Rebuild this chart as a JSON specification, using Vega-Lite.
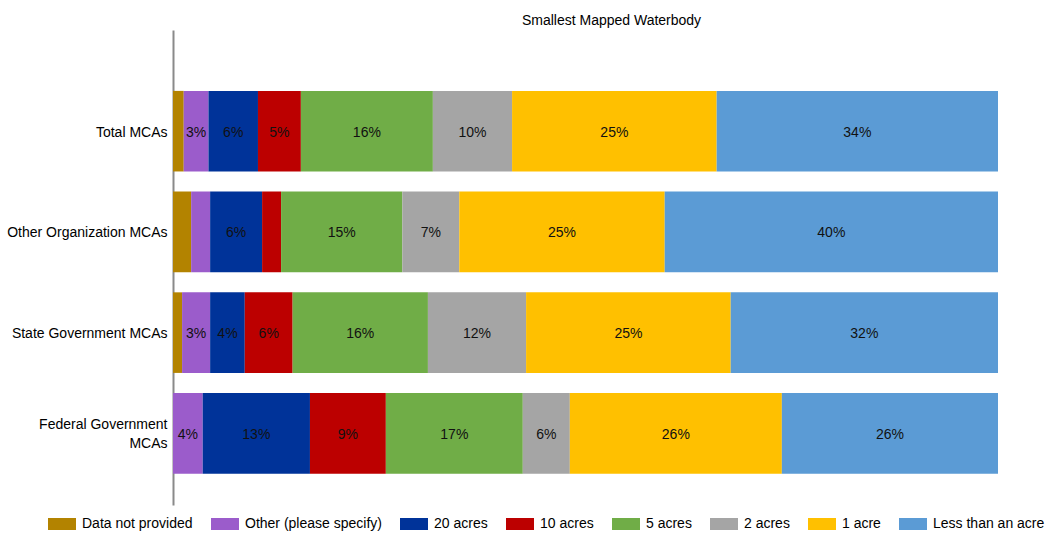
{
  "$schema": "https://vega.github.io/schema/vega-lite/v6.json",
  "width": 825,
  "height": 475,
  "autosize": "none",
  "padding": {"left": 173, "top": 30, "right": 51, "bottom": 28},
  "background": "white",
  "config": {"font": "Liberation Sans, Arial, sans-serif", "view": {"stroke": null}},
  "title": {"text": "Smallest Mapped Waterbody", "fontSize": 14, "fontWeight": "normal", "color": "#000000", "anchor": "middle", "dx": 26, "offset": 2},
  "data": {"values": [
    {"category": "Total MCAs", "response": "Data not provided", "value": 1.3},
    {"category": "Total MCAs", "response": "Other (please specify)", "value": 3.0},
    {"category": "Total MCAs", "response": "20 acres", "value": 6.0},
    {"category": "Total MCAs", "response": "10 acres", "value": 5.2},
    {"category": "Total MCAs", "response": "5 acres", "value": 16.0},
    {"category": "Total MCAs", "response": "2 acres", "value": 9.6},
    {"category": "Total MCAs", "response": "1 acre", "value": 24.8},
    {"category": "Total MCAs", "response": "Less than an acre", "value": 34.1},
    {"category": "Other Organization MCAs", "response": "Data not provided", "value": 2.2},
    {"category": "Other Organization MCAs", "response": "Other (please specify)", "value": 2.3},
    {"category": "Other Organization MCAs", "response": "20 acres", "value": 6.3},
    {"category": "Other Organization MCAs", "response": "10 acres", "value": 2.3},
    {"category": "Other Organization MCAs", "response": "5 acres", "value": 14.7},
    {"category": "Other Organization MCAs", "response": "2 acres", "value": 6.9},
    {"category": "Other Organization MCAs", "response": "1 acre", "value": 24.9},
    {"category": "Other Organization MCAs", "response": "Less than an acre", "value": 40.4},
    {"category": "State Government MCAs", "response": "Data not provided", "value": 1.1},
    {"category": "State Government MCAs", "response": "Other (please specify)", "value": 3.4},
    {"category": "State Government MCAs", "response": "20 acres", "value": 4.2},
    {"category": "State Government MCAs", "response": "10 acres", "value": 5.8},
    {"category": "State Government MCAs", "response": "5 acres", "value": 16.4},
    {"category": "State Government MCAs", "response": "2 acres", "value": 11.9},
    {"category": "State Government MCAs", "response": "1 acre", "value": 24.8},
    {"category": "State Government MCAs", "response": "Less than an acre", "value": 32.4},
    {"category": "Federal Government MCAs", "response": "Data not provided", "value": 0.0},
    {"category": "Federal Government MCAs", "response": "Other (please specify)", "value": 3.6},
    {"category": "Federal Government MCAs", "response": "20 acres", "value": 13.0},
    {"category": "Federal Government MCAs", "response": "10 acres", "value": 9.2},
    {"category": "Federal Government MCAs", "response": "5 acres", "value": 16.6},
    {"category": "Federal Government MCAs", "response": "2 acres", "value": 5.7},
    {"category": "Federal Government MCAs", "response": "1 acre", "value": 25.7},
    {"category": "Federal Government MCAs", "response": "Less than an acre", "value": 26.2}
  ]},
  "transform": [
    {"calculate": "indexof(['Data not provided','Other (please specify)','20 acres','10 acres','5 acres','2 acres','1 acre','Less than an acre'], datum.response)", "as": "order"},
    {"stack": "value", "groupby": ["category"], "sort": [{"field": "order", "order": "ascending"}], "offset": "normalize", "as": ["x0", "x1"]},
    {"calculate": "(datum.x0 + datum.x1) / 2", "as": "xm"},
    {"calculate": "format(datum.value, '.0f') + '%'", "as": "label"}
  ],
  "encoding": {
    "y": {
      "field": "category",
      "type": "nominal",
      "sort": ["Total MCAs", "Other Organization MCAs", "State Government MCAs", "Federal Government MCAs"],
      "scale": {"paddingInner": 0.2, "paddingOuter": 0.458, "align": 0.66},
      "axis": {
        "title": null,
        "domainColor": "#8a8a8a",
        "domainWidth": 2,
        "ticks": false,
        "labelPadding": 6,
        "labelFontSize": 14,
        "labelColor": "#000000",
        "labelLimit": 300,
        "labelLineHeight": 19,
        "labelOffset": {"condition": {"test": "datum.value == 'Federal Government MCAs'", "value": -8}, "value": 1.5},
        "labelExpr": "datum.label == 'Federal Government MCAs' ? ['Federal Government', 'MCAs'] : datum.label"
      }
    }
  },
  "layer": [
    {
      "mark": {"type": "bar"},
      "encoding": {
        "x": {"field": "x0", "type": "quantitative", "scale": {"domain": [0, 1], "nice": false, "zero": true}, "axis": null},
        "x2": {"field": "x1"},
        "color": {
          "field": "response",
          "type": "nominal",
          "scale": {
            "domain": ["Data not provided", "Other (please specify)", "20 acres", "10 acres", "5 acres", "2 acres", "1 acre", "Less than an acre"],
            "range": ["#B38300", "#9B5CCB", "#003399", "#BC0000", "#70AD47", "#A5A5A5", "#FFC000", "#5B9BD5"]
          },
          "legend": {
            "title": null,
            "orient": "none",
            "direction": "horizontal",
            "legendX": -125,
            "legendY": 480,
            "symbolType": "M-1,-0.43H1V0.43H-1Z",
            "symbolSize": 784,
            "symbolStrokeWidth": 0,
            "symbolOpacity": 1,
            "labelFontSize": 14,
            "labelColor": "#000000",
            "labelOffset": 6,
            "columnPadding": 18,
            "labelLimit": 300
          }
        }
      }
    },
    {
      "transform": [{"filter": "datum.value >= 2.95"}],
      "mark": {"type": "text", "fontSize": 14, "color": "#111111", "align": "center", "baseline": "middle", "dy": 1.5},
      "encoding": {
        "x": {"field": "xm", "type": "quantitative"},
        "text": {"field": "label", "type": "nominal"}
      }
    }
  ]
}
